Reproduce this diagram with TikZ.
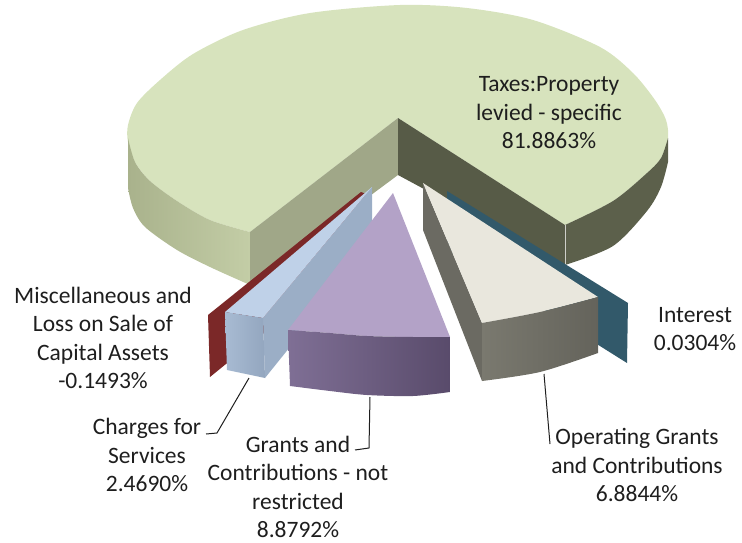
\documentclass[tikz,border=0pt]{standalone}
\usepackage{fontspec}
\setmainfont{Carlito}
\definecolor{gtop}{HTML}{D7E3BD}
\definecolor{gsideL}{HTML}{A9B28C}
\definecolor{gsideR}{HTML}{C3CDA6}
\definecolor{gcutL}{HTML}{A0A788}
\definecolor{gcutR}{HTML}{575B47}
\definecolor{gside2}{HTML}{5C604B}
\definecolor{redc}{HTML}{7B2828}
\definecolor{btop}{HTML}{BFD1E8}
\definecolor{bcut}{HTML}{9BAEC6}
\definecolor{bfrontL}{HTML}{A8BBD3}
\definecolor{bfrontR}{HTML}{93A6BF}
\definecolor{ptop}{HTML}{B3A2C7}
\definecolor{pfrontL}{HTML}{7F6F95}
\definecolor{pfrontR}{HTML}{594B6B}
\definecolor{otop}{HTML}{E9E7DD}
\definecolor{ocut}{HTML}{6B6A62}
\definecolor{ofrontL}{HTML}{7A796F}
\definecolor{ofrontR}{HTML}{64635B}
\definecolor{teal}{HTML}{32596A}
\definecolor{txt}{HTML}{1E1E1E}
\begin{document}
\begin{tikzpicture}[x=1pt,y=-1pt,
  lbl/.style={align=center, font=\fontsize{23.5}{28.5}\selectfont, text=txt, inner sep=0pt},
  leader/.style={draw=txt, line width=1pt}]
\useasboundingbox (0,0) rectangle (742,543);
% ---- key points of the big slice
\coordinate (A) at (398,118);
\coordinate (Ab) at (398,175);
\coordinate (L) at (250,232);
\coordinate (Lb) at (250,285);
\coordinate (R) at (565,225);
\coordinate (Rb) at (565,265);
% top face
\fill[gtop] (A) -- (L) -- plot[smooth] coordinates {(250,232) (210,220) (177,201) (150,181) (135,162) (128,142) (128,125) (137,103) (160,80) (193,54) (243,30) (310,13) (400,5) (467,8) (533,20) (600,47) (633,73) (655,100) (666,120) (668,138) (661,158) (647,173) (613,201) (565,225)} -- (R) -- cycle;
% left outer side
\shade[left color=gsideL, right color=gsideR] plot[smooth] coordinates {(250,232) (210,220) (177,201) (150,181) (135,162) (128,138)} -- plot[smooth] coordinates {(128,188) (133,208) (145,227) (177,250) (210,267) (250,285)} -- cycle;
% right outer side
\fill[gside2] plot[smooth] coordinates {(565,225) (613,201) (647,173) (661,158) (668,138)} -- plot[smooth] coordinates {(668,162) (661,187) (647,211) (613,246) (565,265)} -- cycle;
% cut faces
\fill[gcutL] (A) -- (L) -- (Lb) -- (Ab) -- cycle;
\fill[gcutR] (A) -- (R) -- (Rb) -- (Ab) -- cycle;
\draw[white!70!gside2, line width=0.5pt] (R) -- (Rb);
% ---- Miscellaneous (red sliver)
\fill[redc] (208,315) -- (361,192) -- (366,194) -- (366,250) -- (210,377) -- cycle;
% ---- Charges for Services (blue)
\coordinate (BA) at (372,187);
\fill[bcut] (263,318) -- (BA) -- (372,245) -- (265,378) -- cycle;
\fill[btop] (225,312) -- (BA) -- (263,318) .. controls (250,316) and (237,314) .. (225,312) -- cycle;
\shade[left color=bfrontL, right color=bfrontR] (225,312) -- (263,318) -- (265,378) -- (227,370) -- cycle;
% ---- Grants not restricted (purple)
\coordinate (PA) at (393,193);
\fill[ptop] (PA) -- plot[smooth] coordinates {(288,330) (330,333) (367,336) (413,337) (450,337)} -- cycle;
\shade[left color=pfrontL, right color=pfrontR] plot[smooth] coordinates {(288,330) (330,333) (367,336) (413,337) (450,337)} -- plot[smooth] coordinates {(450,392) (413,396) (367,395) (330,391) (290,386)} -- cycle;
% ---- Interest (teal)
\fill[teal] (447,191) -- (628,303) -- (627,363) -- (447,250) -- cycle;
% ---- Operating Grants
\coordinate (OA) at (423,183);
\fill[ocut] (OA) -- (482,323) -- (482,381) -- (423,230) -- cycle;
\fill[otop] (OA) -- (598,297) -- plot[smooth] coordinates {(598,297) (540,312) (482,323)} -- cycle;
\shade[left color=ofrontL, right color=ofrontR] plot[smooth] coordinates {(482,323) (540,312) (598,297)} -- (598,353) -- plot[smooth] coordinates {(598,353) (540,372) (482,381)} -- cycle;
% ---- labels
\node[lbl] (taxes) at (549,113) {Taxes:Property\\levied - specific\\81.8863\%};
\node[lbl] (misc) at (103,338) {Miscellaneous and\\Loss on Sale of\\Capital Assets\\-0.1493\%};
\node[lbl] (charges) at (147,455) {Charges for\\Services\\2.4690\%};
\node[lbl] (grants) at (298,487) {Grants and\\Contributions - not\\restricted\\8.8792\%};
\node[lbl] (oper) at (637,465) {Operating Grants\\and Contributions\\6.8844\%};
\node[lbl] (inter) at (695,329) {Interest\\0.0304\%};
% ---- leader lines
\coordinate (c1) at (206,434);
\coordinate (c2) at (217,433);
\coordinate (c3) at (249,378);
\draw[leader] (c1) -- (c2) -- (c3);
\coordinate (g1) at (355,450);
\coordinate (g2) at (369,448);
\coordinate (g3) at (370,397);
\draw[leader] (g1) -- (g2) -- (g3);
\coordinate (o1) at (544,374);
\coordinate (o2) at (550,444);
\draw[leader] (o1) -- (o2);
\end{tikzpicture}
\end{document}
